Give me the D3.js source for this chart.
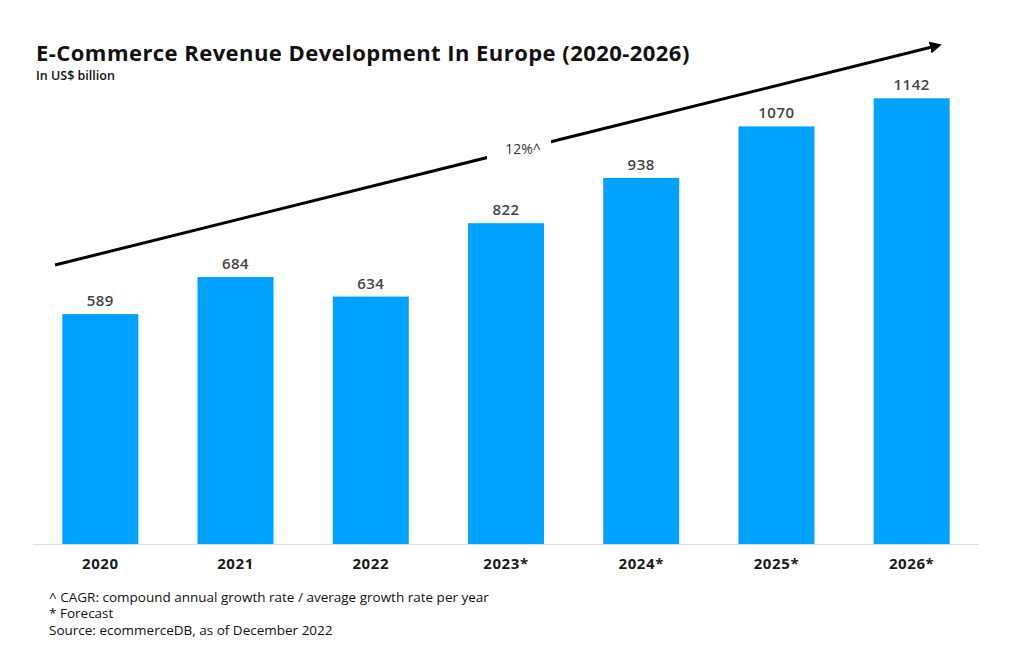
<!DOCTYPE html>
<html>
<head>
<meta charset="utf-8">
<script src="https://cdn.jsdelivr.net/npm/d3@7"></script>
<style>
  body { margin: 0; background: #fff; }
  svg text { font-family: "Open Sans", Lato, sans-serif; }
</style>
</head>
<body>
<div id="chart"></div>
<script>
// data
var years = ["2020", "2021", "2022", "2023*", "2024*", "2025*", "2026*"];
var revenue = [589, 684, 634, 822, 938, 1070, 1142];
var cagrLabel = "12%^";
var notes = [
  "^ CAGR: compound annual growth rate / average growth rate per year",
  "* Forecast",
  "Source: ecommerceDB, as of December 2022"
];

var width = 1024, height = 657;

var svg = d3.select("#chart").append("svg")
    .attr("width", width).attr("height", height);

// title
svg.append("text")
    .attr("x", 36).attr("y", 61)
    .style("font-size", "22px").style("font-weight", "700").style("fill", "#111")
    .style("letter-spacing", "0.45px")
    .text("E-Commerce Revenue Development In Europe (2020-2026)");
svg.append("text")
    .attr("x", 36).attr("y", 80)
    .style("font-size", "12.5px").style("font-weight", "600").style("fill", "#111")
    .text("In US$ billion");

// scales
var x = d3.scaleBand().domain(years).range([33, 979])
    .paddingInner(0.438).paddingOuter(0.217);
var y = d3.scaleLinear().domain([0, 1142]).range([544, 98.3]);

// baseline
svg.append("line")
    .attr("x1", 33).attr("x2", 979)
    .attr("y1", 544.5).attr("y2", 544.5)
    .attr("stroke", "#dddddd").attr("stroke-width", 1);

// bars
svg.selectAll("rect.bar")
    .data(revenue)
    .enter()
    .append("rect")
      .attr("class", "bar")
      .attr("x", function(d, i){ return x(years[i]); })
      .attr("y", function(d){ return y(d); })
      .attr("width", x.bandwidth())
      .attr("height", function(d){ return y(0) - y(d); })
      .attr("fill", "#00a2ff");

// value labels
svg.selectAll("text.val")
    .data(revenue)
    .enter()
    .append("text")
      .attr("class", "val")
      .attr("x", function(d, i){ return x(years[i]) + x.bandwidth()/2; })
      .attr("y", function(d){ return y(d) - 8; })
      .style("text-anchor", "middle")
      .style("font-size", "15px").style("font-weight", "600").style("fill", "#444")
      .style("letter-spacing", "0.5px")
      .text(function(d){ return d; });

// x labels
svg.selectAll("text.xl")
    .data(years)
    .enter()
    .append("text")
      .attr("class", "xl")
      .attr("x", function(d){ return x(d) + x.bandwidth()/2; })
      .attr("y", 569)
      .style("text-anchor", "middle")
      .style("font-size", "15px").style("font-weight", "700").style("fill", "#1a1a1a")
      .style("letter-spacing", "0.6px")
      .text(function(d){ return d; });

// CAGR arrow
svg.append("defs").append("marker")
    .attr("id", "arrowhead")
    .attr("viewBox", "0 0 10 10")
    .attr("refX", 5).attr("refY", 5)
    .attr("markerWidth", 4).attr("markerHeight", 4)
    .attr("orient", "auto")
  .append("path")
    .attr("d", "M0,0 L10,5 L0,10 z")
    .attr("fill", "#000");

var ax1 = 55, ay1 = 265, ax2 = 936, ay2 = 46;
svg.append("line")
    .attr("x1", ax1).attr("y1", ay1).attr("x2", ax2).attr("y2", ay2)
    .attr("stroke", "#000").attr("stroke-width", 3)
    .attr("marker-end", "url(#arrowhead)");

svg.append("rect")
    .attr("x", 487).attr("y", 136).attr("width", 64).attr("height", 28)
    .attr("fill", "#fff");
svg.append("text")
    .attr("x", 523).attr("y", 154)
    .style("text-anchor", "middle")
    .style("font-size", "14px").style("fill", "#333")
    .text(cagrLabel);

// footnotes
svg.selectAll("text.note")
    .data(notes)
    .enter()
    .append("text")
      .attr("class", "note")
      .attr("x", 49)
      .attr("y", function(d, i){ return 602 + i*16.3; })
      .style("font-size", "13.5px").style("font-weight", "500").style("fill", "#111")
      .text(function(d){ return d; });
</script>
</body>
</html>
